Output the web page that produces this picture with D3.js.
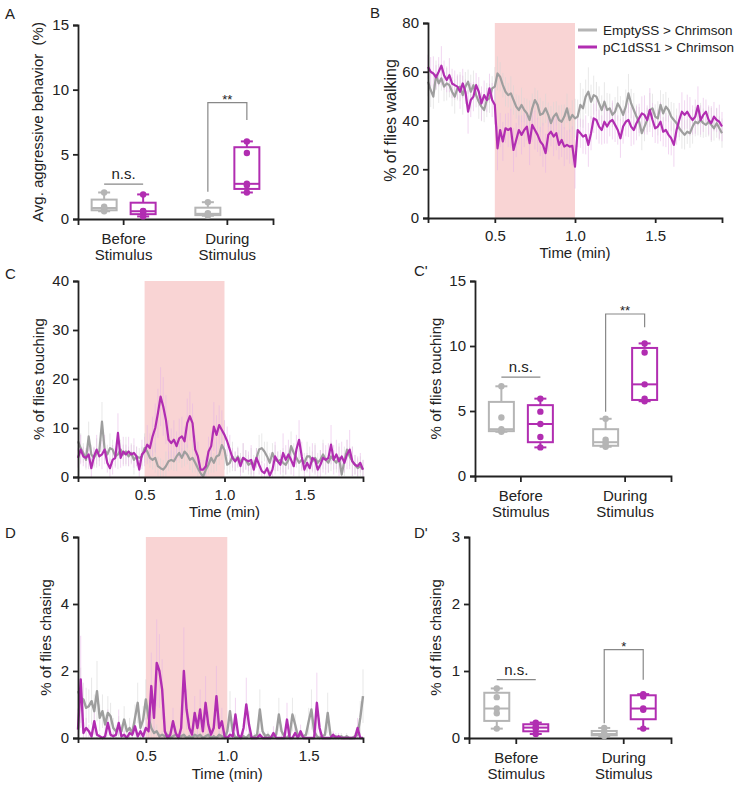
<!DOCTYPE html>
<html>
<head>
<meta charset="utf-8">
<script src="https://cdn.jsdelivr.net/npm/d3@7"></script>
<style>
    body { margin: 0; background: #fff; }
    text { font-family: "Liberation Sans", Arial, sans-serif; fill: #222; }
    .axis path, .axis line { stroke: #222; stroke-width: 1.8px; }
    .axis text { font-size: 15px; fill: #222; }
</style>
</head>
<body>
<script>

// genotypes and phases
var groups = ["EmptySS > Chrimson", "pC1dSS1 > Chrimson"],
    phases = ["Before Stimulus", "During Stimulus"],
    stimWindow = [0.5, 1.0],
    firstSec = 5;

// B: % of flies walking, one value per second from 5 s
var walkGray = [55.9, 52.5, 49.8, 58.6, 55.2, 57.3, 53.9, 55.2, 54.5, 51.8,
    49.8, 53.2, 53.9, 50.4, 53.9, 55.9, 51.8, 54.5, 50.4, 47.7,
    45.7, 44.3, 48.4, 49.1, 53.2, 53.9, 59.3, 57.9, 54.5, 51.8,
    50.4, 51.1, 48.4, 45.7, 44.3, 46.4, 44.3, 42.9, 40.2, 45.0,
    48.4, 46.4, 42.3, 42.9, 45.0, 42.3, 38.9, 41.6, 42.9, 40.2,
    39.5, 41.6, 45.0, 40.2, 42.3, 40.9, 41.6, 46.4, 45.0, 49.8,
    51.8, 47.7, 50.4, 49.8, 47.0, 44.3, 47.7, 44.3, 45.0, 42.3,
    43.6, 47.0, 45.0, 42.3, 45.7, 51.1, 47.0, 44.3, 41.6, 39.5,
    34.8, 37.5, 40.2, 44.3, 45.0, 41.6, 40.9, 46.4, 42.9, 45.7,
    44.3, 41.6, 40.2, 38.9, 36.8, 35.4, 34.1, 35.4, 34.8, 37.5,
    39.5, 38.9, 40.2, 38.9, 38.2, 39.5, 38.2, 36.8, 38.9, 36.8, 34.8];
var walkMag = [62.0, 60.0, 59.3, 57.7, 60.0, 62.5, 58.6, 56.6, 58.6, 55.2,
    54.5, 53.9, 51.8, 55.2, 51.8, 43.6, 48.4, 49.8, 54.5, 51.8,
    47.0, 50.4, 48.4, 53.2, 48.4, 46.4, 28.6, 36.1, 31.4, 36.8,
    36.1, 36.8, 27.9, 32.0, 36.1, 34.1, 36.1, 37.5, 30.7, 38.2,
    36.1, 34.1, 31.4, 30.0, 26.6, 34.1, 35.4, 33.4, 34.8, 30.0,
    32.0, 29.3, 30.0, 29.3, 29.6, 21.1, 36.1, 34.8, 33.4, 34.1,
    30.0, 34.8, 40.9, 40.2, 37.5, 36.1, 39.5, 37.5, 39.5, 40.2,
    38.2, 36.1, 32.7, 37.5, 39.5, 40.2, 37.5, 36.1, 38.9, 40.9,
    42.9, 42.3, 40.2, 44.3, 40.2, 36.8, 37.5, 39.5, 35.4, 36.1,
    34.1, 32.7, 30.0, 36.1, 40.2, 43.6, 42.3, 43.6, 41.6, 40.2,
    41.6, 46.0, 40.2, 42.3, 43.6, 40.2, 38.9, 41.6, 40.2, 39.5, 37.5];
var walkGrayErr = [6, 7, 5, 6, 8, 5, 6, 7, 5, 6, 7, 5, 6, 8, 6, 5, 7, 6, 5, 7,
    6, 5, 7, 6, 5, 8, 7, 6, 5, 6, 5, 7, 6, 5, 6, 7, 5, 6, 8, 6,
    5, 6, 7, 5, 6, 5, 7, 6, 5, 6, 7, 5, 6, 5, 6, 8, 7, 9, 8, 7,
    10, 7, 8, 6, 7, 6, 8, 7, 6, 5, 6, 7, 5, 6, 7, 8, 6, 7, 5, 6,
    7, 6, 5, 7, 6, 5, 7, 6, 8, 6, 5, 6, 7, 6, 5, 7, 6, 5, 6, 7,
    6, 5, 7, 6, 5, 6, 7, 5, 6, 5, 6];
var walkMagErr = [5, 6, 7, 5, 6, 8, 6, 5, 7, 6, 6, 5, 7, 6, 5, 9, 7, 6, 5, 6,
    7, 6, 5, 6, 7, 8, 9, 7, 8, 6, 7, 8, 9, 7, 6, 8, 7, 6, 9, 7,
    8, 7, 6, 9, 8, 7, 6, 8, 7, 6, 7, 8, 6, 7, 8, 9, 7, 6, 7, 8,
    9, 7, 6, 8, 7, 6, 9, 7, 6, 8, 7, 6, 8, 7, 6, 7, 8, 6, 7, 6,
    7, 8, 6, 9, 7, 6, 7, 8, 6, 7, 8, 7, 9, 6, 7, 8, 6, 7, 8, 6,
    7, 8, 6, 7, 5, 6, 7, 6, 5, 7, 6];

// C: % of flies touching, from 5 s
var touchLineGray = [7.3, 5.9, 4.9, 3.5, 8.3, 4.6, 3.9, 4.9, 5.2, 11.3,
    5.6, 4.6, 5.9, 5.6, 4.2, 4.6, 5.6, 4.6, 5.2, 4.2,
    4.9, 3.5, 4.2, 3.9, 4.2, 5.9, 5.2, 3.9, 3.5, 3.9,
    2.2, 1.8, 1.5, 2.2, 3.2, 3.5, 3.2, 4.2, 4.9, 3.9,
    5.2, 4.6, 3.5, 3.9, 2.9, 1.8, 0.8, 0.1, 1.5, 2.5,
    3.9, 2.9, 4.2, 4.5, 6.5, 5.5, 2.5, 2.9, 4.2, 3.2,
    4.2, 2.9, 3.9, 3.5, 2.5, 2.9, 2.5, 3.9, 5.6, 5.9,
    5.2, 4.2, 2.9, 4.9, 3.5, 3.2, 3.5, 2.9, 2.5, 3.5,
    6.3, 4.9, 3.9, 2.9, 3.5, 2.9, 4.2, 4.2, 3.2, 3.9,
    2.9, 3.5, 4.6, 3.5, 2.9, 4.2, 3.5, 2.9, 3.9, 0.5,
    3.2, 5.6, 4.2, 3.2, 2.5, 1.8, 2.2, 1.5];
var touchLineMag = [3.9, 5.6, 4.2, 3.9, 4.6, 1.8, 4.2, 5.6, 4.2, 4.6,
    5.6, 2.9, 1.8, 3.5, 3.9, 9.0, 3.9, 5.2, 4.6, 5.2,
    4.6, 4.9, 4.2, 1.5, 4.6, 5.2, 6.6, 5.9, 8.3, 10.0,
    13.0, 16.4, 14.4, 11.7, 7.6, 6.9, 7.6, 6.3, 7.9, 8.3,
    7.3, 11.0, 12.4, 11.0, 5.6, 4.2, 1.5, 1.5, 2.2, 5.2,
    6.3, 10.3, 8.6, 10.6, 9.6, 8.6, 7.3, 5.6, 3.9, 3.2,
    3.9, 2.2, 3.9, 3.5, 3.2, 3.5, 1.5, 3.9, 2.5, 1.2,
    0.8, 1.8, 0.3, 1.5, 4.2, 3.2, 2.5, 4.9, 3.5, 4.6,
    3.5, 2.2, 5.6, 7.6, 4.2, 1.5, 2.9, 1.8, 3.9, 3.5,
    1.5, 2.5, 3.9, 3.5, 3.9, 6.6, 3.5, 4.6, 3.2, 4.2,
    2.9, 4.6, 5.6, 3.2, 2.5, 2.2, 2.9, 1.5];
var touchGrayErr = [2, 3, 2, 2, 3, 2, 2, 3, 2, 4, 2, 2, 3, 2, 2, 3, 2, 2, 3, 2,
    2, 3, 2, 2, 2, 3, 2, 2, 2, 3, 2, 2, 2, 3, 2, 2, 2, 3, 2, 2,
    3, 2, 2, 3, 2, 2, 2, 1, 2, 2, 3, 2, 3, 2, 3, 4, 2, 2, 3, 2,
    2, 2, 3, 2, 2, 3, 2, 2, 3, 3, 2, 3, 2, 2, 3, 2, 2, 3, 2, 2,
    3, 2, 2, 3, 2, 2, 3, 2, 2, 3, 2, 2, 3, 2, 2, 3, 2, 2, 3, 2,
    3, 2, 2, 3, 2, 2, 2, 2];
var touchMagErr = [2, 3, 2, 2, 3, 2, 2, 3, 2, 3, 3, 2, 2, 3, 2, 4, 2, 3, 2, 3,
    2, 3, 2, 2, 3, 3, 4, 3, 4, 5, 5, 6, 6, 5, 4, 3, 4, 3, 4, 4,
    3, 5, 5, 4, 3, 3, 2, 2, 2, 3, 3, 5, 4, 4, 4, 3, 3, 3, 2, 2,
    2, 2, 3, 2, 2, 3, 2, 2, 2, 2, 2, 2, 1, 2, 3, 2, 2, 4, 3, 3,
    3, 2, 3, 4, 3, 2, 2, 2, 3, 3, 2, 3, 3, 3, 3, 4, 3, 3, 3, 3,
    2, 3, 4, 3, 2, 2, 2, 2];

// D: % of flies chasing, from 5 s
var chaseLineGray = [1.4, 1.2, 1.15, 0.9, 0.95, 1.1, 0.8, 1.4, 0.6, 0.8,
    0.4, 0.75, 0.65, 0.3, 0.2, 0.35, 0.2, 0.55, 0.2, 0.3,
    0.15, 0.6, 1.05, 0.3, 0.55, 1.15, 0.6, 0.3, 0.15, 0.2,
    0.05, 0.1, 0.05, 0.1, 0.0, 0.05, 0.1, 0.05, 0.05, 0.1,
    0.0, 0.05, 0.0, 0.1, 0.05, 0.1, 0.0, 0.05, 0.1, 0.0,
    0.05, 0.0, 0.1, 0.05, 0.0, 0.2, 0.8, 0.2, 0.0, 0.05,
    0.0, 0.05, 0.0, 0.1, 0.0, 0.05, 0.1, 0.85, 0.2, 0.05,
    0.1, 0.0, 0.05, 0.1, 0.7, 0.2, 0.05, 0.0, 0.1, 0.7,
    0.4, 0.05, 0.1, 0.05, 0.1, 0.5, 0.85, 0.2, 0.05, 0.0,
    0.05, 0.1, 0.75, 0.1, 0.0, 0.05, 0.0, 0.05, 0.0, 0.05,
    0.0, 0.0, 0.05, 0.1, 0.6, 1.25];
var chaseLineMag = [0.25, 1.75, 0.15, 0.3, 0.2, 0.05, 0.5, 0.1, 0.05, 0.0,
    0.05, 0.45, 0.1, 0.05, 0.1, 0.45, 0.05, 0.1, 0.0, 0.15,
    0.1, 0.35, 0.05, 0.2, 0.05, 0.3, 0.2, 1.55, 0.6, 2.24,
    2.0, 1.45, 0.2, 0.0, 0.1, 0.5, 0.15, 0.0, 0.3, 2.0,
    0.85, 0.3, 0.1, 0.75, 0.3, 0.85, 0.2, 1.05, 0.4, 0.1,
    0.3, 1.25, 0.3, 0.5, 0.05, 0.0, 0.1, 0.05, 0.7, 0.1,
    0.0, 0.3, 1.0, 0.4, 0.0, 0.0, 0.0, 0.1, 0.0, 0.0,
    0.0, 0.0, 0.15, 0.0, 0.0, 0.0, 0.0, 0.55, 0.0, 0.0,
    0.15, 0.0, 0.2, 0.0, 0.0, 0.0, 0.0, 0.0, 1.05, 0.3,
    0.0, 0.0, 0.0, 0.0, 0.1, 0.0, 0.05, 0.0, 0.0, 0.0,
    0.0, 0.0, 0.0, 0.3, 0.0, 0.0];
var chaseGrayErr = [0.6, 0.9, 0.5, 0.6, 0.5, 0.7, 0.5, 0.9, 0.4, 0.5,
    0.3, 0.5, 0.4, 0.3, 0.2, 0.3, 0.2, 0.4, 0.2, 0.3,
    0.2, 0.4, 0.6, 0.3, 0.4, 0.6, 0.4, 0.3, 0.2, 0.2,
    0.1, 0.1, 0.1, 0.1, 0.0, 0.1, 0.1, 0.1, 0.1, 0.1,
    0.0, 0.1, 0.0, 0.1, 0.1, 0.1, 0.0, 0.1, 0.1, 0.0,
    0.1, 0.0, 0.1, 0.1, 0.0, 0.2, 0.6, 0.2, 0.0, 0.1,
    0.0, 0.1, 0.0, 0.1, 0.0, 0.1, 0.1, 0.6, 0.2, 0.1,
    0.1, 0.0, 0.1, 0.1, 0.5, 0.2, 0.1, 0.0, 0.1, 0.5,
    0.3, 0.1, 0.1, 0.1, 0.1, 0.4, 0.6, 0.2, 0.1, 0.0,
    0.1, 0.1, 0.6, 0.1, 0.0, 0.1, 0.0, 0.1, 0.0, 0.1,
    0.0, 0.0, 0.1, 0.1, 0.5, 0.8];
var chaseMagErr = [0.2, 1.3, 0.2, 0.3, 0.2, 0.1, 0.4, 0.1, 0.1, 0.0,
    0.1, 0.4, 0.1, 0.1, 0.1, 0.4, 0.1, 0.1, 0.0, 0.2,
    0.1, 0.3, 0.1, 0.2, 0.1, 0.3, 0.2, 1.0, 0.5, 1.3,
    1.1, 0.9, 0.2, 0.0, 0.1, 0.4, 0.2, 0.0, 0.3, 1.3,
    0.6, 0.3, 0.1, 0.5, 0.3, 0.6, 0.2, 0.8, 0.4, 0.1,
    0.3, 0.9, 0.3, 0.4, 0.1, 0.0, 0.1, 0.1, 0.5, 0.1,
    0.0, 0.3, 0.8, 0.4, 0.0, 0.0, 0.0, 0.1, 0.0, 0.0,
    0.0, 0.0, 0.2, 0.0, 0.0, 0.0, 0.0, 0.5, 0.0, 0.0,
    0.2, 0.0, 0.2, 0.0, 0.0, 0.0, 0.0, 0.0, 0.9, 0.3,
    0.0, 0.0, 0.0, 0.0, 0.1, 0.0, 0.1, 0.0, 0.0, 0.0,
    0.0, 0.0, 0.0, 0.3, 0.0, 0.0];

// box plot points per fly group: [before, during]
var aggrGray = [[0.6, 0.75, 0.85, 0.95, 2.05], [0.25, 0.35, 0.4, 0.45, 1.3]],
    aggrMag = [[0.2, 0.55, 0.6, 0.62, 1.9], [2.05, 2.6, 2.72, 5.1, 6.0]],
    touchGray = [[3.4, 3.5, 3.6, 4.5, 6.9], [2.25, 2.4, 2.6, 2.8, 4.4]],
    touchMag = [[2.2, 3.0, 4.0, 4.95, 5.95], [5.75, 5.95, 7.05, 9.5, 10.2]],
    chaseGray = [[0.14, 0.37, 0.44, 0.61, 0.74], [0.03, 0.05, 0.06, 0.06, 0.15]],
    chaseMag = [[0.06, 0.14, 0.155, 0.18, 0.23], [0.14, 0.42, 0.44, 0.62, 0.655]];

// significance marks: n.s. bar, bracket top, left foot, right foot (data units)
var aggrSig = [2.7, 9.0, 2.1, 7.65],
    touchSig = [7.6, 12.46, 4.95, 11.44],
    chaseSig = [0.87, 1.32, 0.22, 0.87],
    sigLabels = ["**", "**", "*"];

var grayLine = "#9e9e9e",
    grayBox = "#b5b5b5",
    grayErr = "#d6d6d6",
    magenta = "#b12db1",
    magErr = "#e6b4e6",
    stimColor = "#f9d4d4";

var svg = d3.select("body").append("svg")
    .attr("width", 739)
    .attr("height", 786);

/*
 * Quartile the way Prism does it, (n+1) positions.
 */
function quart(values, p)
{
    var s = values.slice().sort(d3.ascending);
    var pos = p * (s.length + 1) - 1;
    if (pos <= 0) return s[0];
    if (pos >= s.length - 1) return s[s.length - 1];
    var lo = Math.floor(pos);
    return s[lo] + (pos - lo) * (s[lo + 1] - s[lo]);
}

/*
 * Rotated y title, centred on the plot.
 */
function yTitle(text, cx, top, bottom, size)
{
    svg.append("text")
        .attr("transform", "translate(" + cx + "," + ((top + bottom) / 2) + ") rotate(-90)")
        .attr("text-anchor", "middle")
        .attr("dominant-baseline", "central")
        .style("font-size", size + "px")
        .style("white-space", "pre")
        .text(text);
}

function letter(text, x, y)
{
    svg.append("text")
        .attr("x", x)
        .attr("y", y)
        .style("font-size", "15px")
        .text(text);
}

/*
 * Time course panel: stimulus block, sem lines and the two means.
 */
function timePanel(p)
{
    var x = d3.scaleLinear().domain(p.xDomain).range([p.left, p.right]);
    var y = d3.scaleLinear().domain([0, p.yMax]).range([p.bottom, p.top]);

    // stimulus window
    svg.append("rect")
        .attr("x", x(stimWindow[0]))
        .attr("width", x(stimWindow[1]) - x(stimWindow[0]))
        .attr("y", y(p.yMax))
        .attr("height", y(0) - y(p.yMax))
        .attr("fill", stimColor);

    var series = p.series.map(function(s) {
        return {
            color: s.color,
            errColor: s.errColor,
            pts: s.vals.map(function(v, i) {
                return {t: (firstSec + i) / 60, v: v, e: s.err[i]};
            })
        };
    });

    // sem as thin vertical lines
    series.forEach(function(s) {
        svg.append("g").selectAll("line")
            .data(s.pts)
            .enter()
            .append("line")
                .attr("x1", function(d) { return x(d.t); })
                .attr("x2", function(d) { return x(d.t); })
                .attr("y1", function(d) { return y(Math.max(0, d.v - d.e)); })
                .attr("y2", function(d) { return y(Math.min(p.yMax, d.v + d.e)); })
                .attr("stroke", s.errColor)
                .attr("stroke-opacity", 0.55)
                .attr("stroke-width", 1);
    });

    var line = d3.line()
        .x(function(d) { return x(d.t); })
        .y(function(d) { return y(d.v); });

    series.forEach(function(s) {
        svg.append("path")
            .datum(s.pts)
            .attr("d", line)
            .attr("fill", "none")
            .attr("stroke", s.color)
            .attr("stroke-width", p.lineWidth)
            .attr("stroke-linejoin", "round");
    });

    // axes
    svg.append("g")
        .attr("class", "axis")
        .attr("transform", "translate(0," + p.bottom + ")")
        .call(d3.axisBottom(x).tickValues([0.5, 1.0, 1.5]).tickFormat(d3.format(".1f"))
            .tickSizeOuter(0).tickSize(5).tickPadding(7));

    svg.append("g")
        .attr("class", "axis")
        .attr("transform", "translate(" + p.left + ",0)")
        .call(d3.axisLeft(y).tickValues(p.yTicks).tickFormat(d3.format("d"))
            .tickSizeOuter(0).tickSize(5).tickPadding(4));

    svg.append("text")
        .attr("x", x(1.0))
        .attr("y", p.bottom + p.xTitleGap)
        .attr("text-anchor", "middle")
        .style("font-size", "15px")
        .text("Time (min)");

    yTitle(p.yLabel, p.left - p.titleGap, p.top, p.bottom, p.titleSize);
}

/*
 * Box and whisker panel with the fly points on top.
 */
function boxPanel(p)
{
    var x = d3.scaleBand().domain(phases).range([p.left, p.right])
        .paddingInner(0.5).paddingOuter(0.19);
    var xg = d3.scalePoint().domain(groups).range([-19.5, 19.5]);
    var y = d3.scaleLinear().domain([0, p.yMax]).range([p.bottom, p.top]);

    function cx(phase, group) { return x(phase) + x.bandwidth() / 2 + xg(group); }

    svg.append("g")
        .attr("class", "axis")
        .attr("transform", "translate(0," + p.bottom + ")")
        .call(d3.axisBottom(x).tickSizeOuter(0).tickSize(6).tickFormat(""));

    svg.append("g")
        .attr("class", "axis")
        .attr("transform", "translate(" + p.left + ",0)")
        .call(d3.axisLeft(y).tickValues(p.yTicks).tickFormat(d3.format("d"))
            .tickSizeOuter(0).tickSize(5).tickPadding(4));

    // two line category labels
    phases.forEach(function(ph) {
        var t = svg.append("text")
            .attr("text-anchor", "middle")
            .style("font-size", "15px");
        ph.split(" ").forEach(function(w, i) {
            t.append("tspan")
                .attr("x", x(ph) + x.bandwidth() / 2)
                .attr("y", p.bottom + 25 + i * 16)
                .text(w);
        });
    });

    var sets = [
        {group: groups[0], color: grayBox, vals: p.gray},
        {group: groups[1], color: magenta, vals: p.mag}
    ];

    sets.forEach(function(s) {
        phases.forEach(function(ph, k) {
            var v = s.vals[k],
                c = cx(ph, s.group),
                lo = d3.min(v), hi = d3.max(v),
                q1 = quart(v, 0.25), md = quart(v, 0.5), q3 = quart(v, 0.75);
            var g = svg.append("g")
                .attr("stroke", s.color)
                .attr("stroke-width", 2)
                .attr("fill", "none");

            g.append("line").attr("x1", c).attr("x2", c).attr("y1", y(hi)).attr("y2", y(q3));
            g.append("line").attr("x1", c).attr("x2", c).attr("y1", y(q1)).attr("y2", y(lo));
            g.append("line").attr("x1", c - 6).attr("x2", c + 6).attr("y1", y(hi)).attr("y2", y(hi));
            g.append("line").attr("x1", c - 6).attr("x2", c + 6).attr("y1", y(lo)).attr("y2", y(lo));
            g.append("rect")
                .attr("x", c - 12.5)
                .attr("width", 25)
                .attr("y", y(q3))
                .attr("height", y(q1) - y(q3))
                .attr("fill", "#fff");
            g.append("line").attr("x1", c - 12.5).attr("x2", c + 12.5).attr("y1", y(md)).attr("y2", y(md));

            svg.append("g").selectAll("circle")
                .data(v)
                .enter()
                .append("circle")
                    .attr("cx", c)
                    .attr("cy", function(d) { return y(d); })
                    .attr("r", 3.2)
                    .attr("fill", s.color);
        });
    });

    // n.s. over the before pair
    var b0 = cx(phases[0], groups[0]), b1 = cx(phases[0], groups[1]);
    svg.append("line")
        .attr("x1", b0).attr("x2", b1)
        .attr("y1", y(p.sig[0])).attr("y2", y(p.sig[0]))
        .attr("stroke", "#888").attr("stroke-width", 1.2);
    svg.append("text")
        .attr("x", (b0 + b1) / 2)
        .attr("y", y(p.sig[0]) - 5)
        .attr("text-anchor", "middle")
        .style("font-size", "15px")
        .text("n.s.");

    // bracket over the during pair
    var d0 = cx(phases[1], groups[0]), d1 = cx(phases[1], groups[1]);
    svg.append("path")
        .attr("d", "M" + d0 + "," + y(p.sig[2]) + "V" + y(p.sig[1]) + "H" + d1 + "V" + y(p.sig[3]))
        .attr("fill", "none")
        .attr("stroke", "#888")
        .attr("stroke-width", 1.2);
    svg.append("text")
        .attr("x", (d0 + d1) / 2)
        .attr("y", y(p.sig[1]) + 1)
        .attr("text-anchor", "middle")
        .style("font-size", "13px")
        .text(p.star);

    yTitle(p.yLabel, p.left - p.titleGap, p.top, p.bottom, 15);
}

// A
boxPanel({left: 78, right: 273, top: 25, bottom: 219, yMax: 15, yTicks: [0, 5, 10, 15],
    gray: aggrGray, mag: aggrMag, sig: aggrSig, star: sigLabels[0],
    yLabel: "Avg. aggressive behavior  (%)", titleGap: 41});

// B
timePanel({left: 428, right: 722, top: 23, bottom: 218, xDomain: [5 / 60, 115 / 60],
    yMax: 80, yTicks: [0, 20, 40, 60, 80], lineWidth: 2.2, xTitleGap: 40,
    series: [
        {vals: walkGray, err: walkGrayErr, color: grayLine, errColor: grayErr},
        {vals: walkMag, err: walkMagErr, color: magenta, errColor: magErr}
    ],
    yLabel: "% of flies walking", titleGap: 38, titleSize: 16});

// legend for the time courses
var legend = svg.selectAll(".legend")
    .data(groups)
    .enter()
    .append("g")
        .attr("class", "legend")
        .attr("transform", function(d, i) { return "translate(578," + (30 + i * 17) + ")"; });

legend.append("line")
    .attr("x1", 0)
    .attr("x2", 19)
    .attr("stroke", function(d, i) { return i == 0 ? grayBox : magenta; })
    .attr("stroke-width", 3);

legend.append("text")
    .attr("x", 25)
    .attr("dominant-baseline", "central")
    .style("font-size", "13.5px")
    .text(function(d) { return d; });

// C
timePanel({left: 78, right: 363, top: 281, bottom: 477, xDomain: [5 / 60, 112 / 60],
    yMax: 40, yTicks: [0, 10, 20, 30, 40], lineWidth: 2.2, xTitleGap: 40,
    series: [
        {vals: touchLineGray, err: touchGrayErr, color: grayLine, errColor: grayErr},
        {vals: touchLineMag, err: touchMagErr, color: magenta, errColor: magErr}
    ],
    yLabel: "% of flies touching", titleGap: 40, titleSize: 15});

// C'
boxPanel({left: 475, right: 671, top: 281, bottom: 476, yMax: 15, yTicks: [0, 5, 10, 15],
    gray: touchGray, mag: touchMag, sig: touchSig, star: sigLabels[1],
    yLabel: "% of flies touching", titleGap: 40});

// D
timePanel({left: 78, right: 363, top: 537, bottom: 738, xDomain: [5 / 60, 110 / 60],
    yMax: 6, yTicks: [0, 2, 4, 6], lineWidth: 2.4, xTitleGap: 41,
    series: [
        {vals: chaseLineGray, err: chaseGrayErr, color: grayLine, errColor: grayErr},
        {vals: chaseLineMag, err: chaseMagErr, color: magenta, errColor: magErr}
    ],
    yLabel: "% of flies chasing", titleGap: 33, titleSize: 15});

// D'
boxPanel({left: 469, right: 671, top: 537, bottom: 738, yMax: 3, yTicks: [0, 1, 2, 3],
    gray: chaseGray, mag: chaseMag, sig: chaseSig, star: sigLabels[2],
    yLabel: "% of flies chasing", titleGap: 34});

// panel letters
letter("A", 5, 19);
letter("B", 370, 18);
letter("C", 5, 279);
letter("C'", 414, 276);
letter("D", 5, 538);
letter("D'", 414, 538);

</script>
</body>
</html>
